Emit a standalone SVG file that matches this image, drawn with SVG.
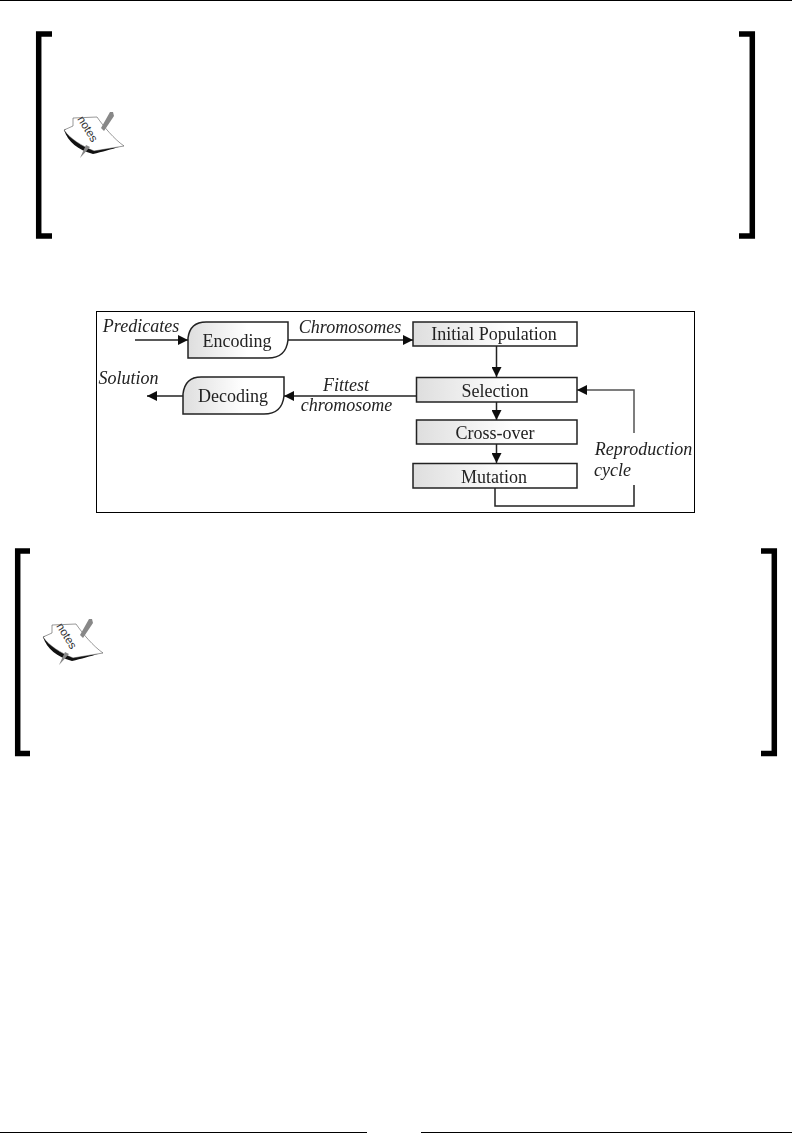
<svg xmlns="http://www.w3.org/2000/svg" width="792" height="1142" viewBox="0 0 792 1142">
<style>
.br{fill:none;stroke:#000;stroke-width:5.5}
.rule{stroke:#000;stroke-width:1.2}
.nd{stroke:#222;stroke-width:1.5;fill:url(#g)}
.t{font-family:"Liberation Serif",serif;font-size:18px;fill:#222;text-anchor:middle}
.l{font-family:"Liberation Serif",serif;font-size:18px;font-style:italic;fill:#222;text-anchor:middle}
.c{fill:none;stroke:#222;stroke-width:1.5}
.c2{fill:none;stroke:#555;stroke-width:1.5}
.bk{fill:#fff;stroke:#333;stroke-width:.5}
.dk{fill:#111}
.pn{fill:#888}
.nt{font-family:"Liberation Sans",sans-serif;font-size:11.5px;fill:#333}
</style>
<defs>
<linearGradient id="g" x1="0" x2="1" y1="0" y2="0"><stop offset="0" stop-color="#dedede"/><stop offset=".6" stop-color="#fff"/></linearGradient>
<marker id="a" markerUnits="userSpaceOnUse" markerWidth="11" markerHeight="10" refX="10" refY="5" orient="auto"><path d="M0 0L10 5L0 10Z" fill="#111"/></marker>
<filter id="s" x="-5%" y="-5%" width="110%" height="110%"><feGaussianBlur stdDeviation="0.35"/></filter>
<g id="note">
<path class="dk" d="M64 130C68 142 78 150 93 154C102 152 112 149 119 147L94 150C82 147 72 140 66 129Z"/>
<path class="bk" d="M64 130L73 126L73 118L97 117C104 127 114 139 124 146L94 151C82 146 70 139 64 130Z"/>
<path class="pn" d="M101 128L110 112L113 112L114 116L104 131Z"/>
<path class="pn" d="M86 145L80 158L90 147Z"/>
<text class="nt" transform="translate(77 119) rotate(58)">notes</text>
</g>
</defs>
<line class="rule" x1="0" y1="0.5" x2="792" y2="0.5"/>
<g id="bracket-top">
<path class="br" d="M52 34H38.7V236H52"/>
<path class="br" d="M739 34H752.3V236H739"/>
<use href="#note"/>
</g>
<g id="bracket-bottom">
<path class="br" d="M30 551H17.7V753.5H30"/>
<path class="br" d="M761 551H774.3V753.5H761"/>
<use href="#note" transform="translate(-21 507)"/>
</g>
<rect id="frame" x="96.5" y="311.5" width="598" height="201" fill="#fff" stroke="#000" stroke-width="1"/>
<g filter="url(#s)">
<g id="connectors">
<path class="c" marker-end="url(#a)" d="M135 340H188"/>
<path class="c" marker-end="url(#a)" d="M288 340H413"/>
<path class="c" marker-end="url(#a)" d="M496.5 346V377"/>
<path class="c" marker-end="url(#a)" d="M496.5 402V420"/>
<path class="c" marker-end="url(#a)" d="M496.5 444V463"/>
<path class="c" marker-end="url(#a)" d="M416 396H284"/>
<path class="c" marker-end="url(#a)" d="M183 396H147"/>
<path class="c" d="M495 488V506H634V485"/>
<path class="c2" marker-end="url(#a)" d="M634 433V390H577"/>
</g>
<g id="encoding"><path class="nd" d="M188 358V338Q190 322 206 322H288V340Q286 358 268 358Z"/><text class="t" x="237" y="347">Encoding</text></g>
<g id="decoding"><path class="nd" d="M183 414V394Q185 377 201 377H284V396Q282 414 264 414Z"/><text class="t" x="233" y="402">Decoding</text></g>
<g id="initial"><rect class="nd" x="413" y="322" width="164" height="24"/><text class="t" x="494" y="340">Initial Population</text></g>
<g id="selection"><rect class="nd" x="416.5" y="377.5" width="160.5" height="24.5"/><text class="t" x="495" y="397">Selection</text></g>
<g id="crossover"><rect class="nd" x="416.5" y="420" width="160.5" height="24"/><text class="t" x="495" y="439">Cross-over</text></g>
<g id="mutation"><rect class="nd" x="413" y="463.5" width="164" height="24.5"/><text class="t" x="494" y="483">Mutation</text></g>
<g id="labels">
<text class="l" x="141" y="332">Predicates</text>
<text class="l" x="350" y="333">Chromosomes</text>
<text class="l" x="128.5" y="384">Solution</text>
<text class="l" x="346" y="391">Fittest</text>
<text class="l" x="346.5" y="411">chromosome</text>
<text class="l" x="643.5" y="455">Reproduction</text>
<text class="l" x="612.5" y="476">cycle</text>
</g>
</g>
<g id="footer"><line class="rule" x1="0" y1="1132.5" x2="367" y2="1132.5"/><line class="rule" x1="421" y1="1132.5" x2="792" y2="1132.5"/></g>
</svg>
